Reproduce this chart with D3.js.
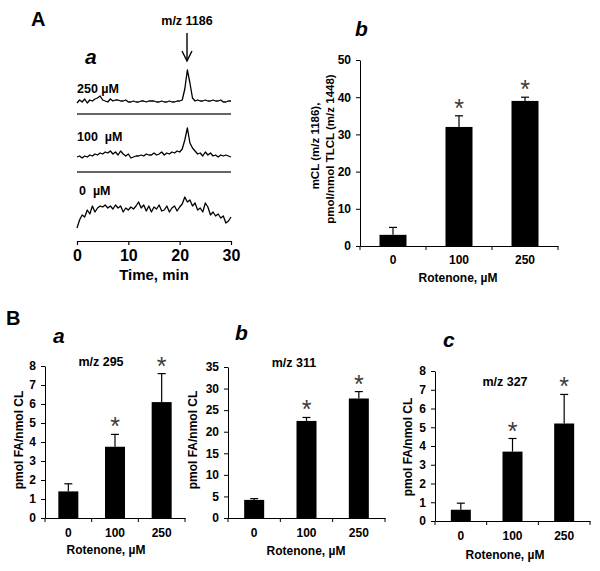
<!DOCTYPE html>
<html><head><meta charset="utf-8">
<script src="https://cdn.jsdelivr.net/npm/d3@7"></script>
<style>
body{margin:0;background:#fff}
text{font-family:"Liberation Sans",Arial,sans-serif;font-weight:bold;fill:#000}
</style>
</head><body>
<svg id="c" width="600" height="571"></svg>
<script>
// ---------- DATA ----------
const times = [0,0.5,1,1.5,2,2.5,3,3.5,4,4.5,5,5.5,6,6.5,7,7.5,8,8.5,9,9.5,10,10.5,11,11.5,12,12.5,13,13.5,14,14.5,15,15.5,16,16.5,17,17.5,18,18.5,19,19.5,20,20.5,21,21.5,22,22.5,23,23.5,24,24.5,25,25.5,26,26.5,27,27.5,28,28.5,29,29.5,30];
const trace250 = [0,3,1,4,0,3,2,4,5,7,3,2,1,4,2,3,3,2,2,3,1,1,2,1,1,2,2,1,2,2,2,1,1,2,1,1,2,1,1,2,2,3,14,33,20,5,2,3,2,2,3,2,2,3,2,2,3,1,1,2,2];
const trace100 = [1,2,0,2,1,3,2,4,3,5,4,6,5,7,4,6,3,7,4,2,4,0,1,2,2,3,2,4,3,3,5,3,4,6,3,5,4,6,5,7,6,9,18,30,15,10,7,4,5,2,6,3,5,2,3,1,3,2,3,2,1];
const trace0 = [2,10,15,13,20,16,24,18,22,24,23,25,22,24,21,25,22,24,18,22,20,23,21,24,28,22,25,19,24,18,23,21,25,19,20,24,18,22,24,19,23,26,33,28,30,24,27,20,22,18,27,23,15,18,14,16,12,14,7,9,13];
const timeTicks = [0,10,20,30];
const traceLabels = ["250 µM","100  µM","0  µM"];

const doses = ["0","100","250"];
const significant = [false,true,true];

const mclMean = [3,32,39];
const mclErr  = [2,3,1];
const mclTicks = [0,10,20,30,40,50];

const fa295Mean = [1.4,3.75,6.1];
const fa295Err  = [0.4,0.65,1.5];
const fa295Ticks = [0,1,2,3,4,5,6,7,8];

const fa311Mean = [4.2,22.5,27.7];
const fa311Err  = [0.3,0.8,1.6];
const fa311Ticks = [0,5,10,15,20,25,30,35];

const fa327Mean = [0.6,3.7,5.2];
const fa327Err  = [0.35,0.7,1.55];
const fa327Ticks = [0,1,2,3,4,5,6,7,8];

// ---------- DRAW ----------
const svg = d3.select("#c");

function txt(x,y,s,size,opts={}){
  const t = svg.append("text").attr("x",x).attr("y",y).text(s)
    .style("font-size",size+"px").style("white-space","pre");
  if(opts.anchor) t.attr("text-anchor",opts.anchor);
  if(opts.italic) t.style("font-style","italic");
  if(opts.rotate) t.attr("transform",`rotate(-90,${x},${y})`);
  if(opts.fill) t.style("fill",opts.fill);
  if(opts.weight) t.style("font-weight",opts.weight);
  return t;
}

// Panel letters
txt(31,26,"A",20);
txt(6,325,"B",20);
txt(85,64,"a",21,{italic:true});
txt(355,36,"b",21,{italic:true});
txt(53,343,"a",21,{italic:true});
txt(235,340,"b",21,{italic:true});
txt(443,347,"c",21,{italic:true});

// ---- Panel A a: chromatograms ----
const xt = d3.scaleLinear().domain([0,30]).range([77,231]);
const traces = [trace250,trace100,trace0];
const refs = [103,158,230];
traces.forEach((tr,i)=>{
  const ys = d3.scaleLinear().domain([0,35]).range([refs[i],refs[i]-35]);
  const line = d3.line().x((d,j)=>xt(times[j])).y(d=>ys(d));
  svg.append("path").datum(tr).attr("d",line)
    .attr("fill","none").attr("stroke","#000").attr("stroke-width",1.3)
    .attr("stroke-linejoin","round");
});
[114,172].forEach(y=>{
  svg.append("line").attr("x1",xt(0)).attr("x2",xt(30)).attr("y1",y).attr("y2",y)
    .attr("stroke","#333").attr("stroke-width",1.6);
});
txt(77,93,traceLabels[0],12.5);
txt(77,141,traceLabels[1],12.5);
txt(79,195,traceLabels[2],12.5);
txt(187,25,"m/z 1186",12.5,{anchor:"middle"});
// arrow
svg.append("line").attr("x1",187).attr("x2",187).attr("y1",33).attr("y2",60)
  .attr("stroke","#000").attr("stroke-width",1.4);
svg.append("path").attr("d","M182,51 L187,61 L192,51").attr("fill","none")
  .attr("stroke","#000").attr("stroke-width",1.4);
const tAxis = svg.append("g").attr("transform","translate(0,241)")
  .call(d3.axisBottom(xt).tickValues(timeTicks).tickSize(4).tickPadding(5).tickSizeOuter(0));
tAxis.selectAll("text").style("font-size","16px");
tAxis.selectAll("line,path").attr("stroke","#000").attr("stroke-width",1.2);
txt(154,280,"Time, min",15,{anchor:"middle"});

// ---- Bar panels ----
function barPanel(cfg){
  const x = d3.scaleBand().domain(doses).range([cfg.x0,cfg.x1]).padding(0);
  const y = d3.scaleLinear().domain([0,cfg.max]).range([cfg.y0,cfg.yTop]);
  const bw = cfg.barW;
  const g = svg.append("g");
  g.selectAll("rect.bar").data(cfg.mean).enter().append("rect")
    .attr("x",(d,i)=>x(doses[i])+x.bandwidth()/2-bw/2)
    .attr("width",bw)
    .attr("y",d=>y(d)).attr("height",d=>y(0)-y(d))
    .attr("fill","#000");
  cfg.mean.forEach((m,i)=>{
    const cx = x(doses[i])+x.bandwidth()/2;
    g.append("line").attr("x1",cx).attr("x2",cx).attr("y1",y(m)).attr("y2",y(m+cfg.err[i]))
      .attr("stroke","#000").attr("stroke-width",1.2);
    g.append("line").attr("x1",cx-4).attr("x2",cx+4).attr("y1",y(m+cfg.err[i])).attr("y2",y(m+cfg.err[i]))
      .attr("stroke","#000").attr("stroke-width",1.2);
    if(significant[i]){
      txt(cx,y(m+cfg.err[i])+1,"*",25,{anchor:"middle",fill:"#3a3a3a",weight:"normal"});
    }
  });
  const ya = g.append("g").attr("transform",`translate(${cfg.x0},0)`)
    .call(d3.axisLeft(y).tickValues(cfg.ticks).tickSize(4).tickPadding(5).tickSizeOuter(0));
  ya.selectAll("text").style("font-size","12px");
  ya.selectAll("line,path").attr("stroke","#000");
  const xa = g.append("g").attr("transform",`translate(0,${cfg.y0})`)
    .call(d3.axisBottom(x).tickSize(0).tickPadding(cfg.labPad).tickSizeOuter(0));
  xa.selectAll("text").style("font-size","12px");
  xa.select("path").attr("stroke","#000");
  const edges = doses.map(d=>x(d)).concat([cfg.x1]);
  edges.forEach(e=>{
    g.append("line").attr("x1",e).attr("x2",e).attr("y1",cfg.y0).attr("y2",cfg.y0+4).attr("stroke","#000");
  });
  txt(cfg.xlabX,cfg.xlabY,"Rotenone, µM",12,{anchor:"middle"});
  if(cfg.title) txt(cfg.title[0],cfg.title[1],cfg.title[2],12.5,{anchor:"middle"});
}

barPanel({x0:360,x1:558,y0:246,yTop:60,max:50,barW:27,mean:mclMean,err:mclErr,ticks:mclTicks,
  labPad:9,xlabX:458,xlabY:282});
txt(319,146,"mCL (m/z 1186),",11.5,{anchor:"middle",rotate:true});
txt(334,149,"pmol/nmol TLCL (m/z 1448)",11.5,{anchor:"middle",rotate:true});

barPanel({x0:45,x1:185,y0:518,yTop:366,max:8,barW:20,mean:fa295Mean,err:fa295Err,ticks:fa295Ticks,
  labPad:10,xlabX:106,xlabY:554,title:[101,366,"m/z 295"]});
txt(23,440,"pmol FA/nmol CL",12,{anchor:"middle",rotate:true});

barPanel({x0:228,x1:385,y0:518,yTop:367,max:35,barW:20,mean:fa311Mean,err:fa311Err,ticks:fa311Ticks,
  labPad:10,xlabX:306,xlabY:555,title:[294,367,"m/z 311"]});
txt(197,440,"pmol FA/nmol CL",12,{anchor:"middle",rotate:true});

barPanel({x0:435,x1:590,y0:521,yTop:371,max:8,barW:20,mean:fa327Mean,err:fa327Err,ticks:fa327Ticks,
  labPad:10,xlabX:505,xlabY:559,title:[505,386,"m/z 327"]});
txt(412,447,"pmol FA/nmol CL",12,{anchor:"middle",rotate:true});
</script>
</body></html>
